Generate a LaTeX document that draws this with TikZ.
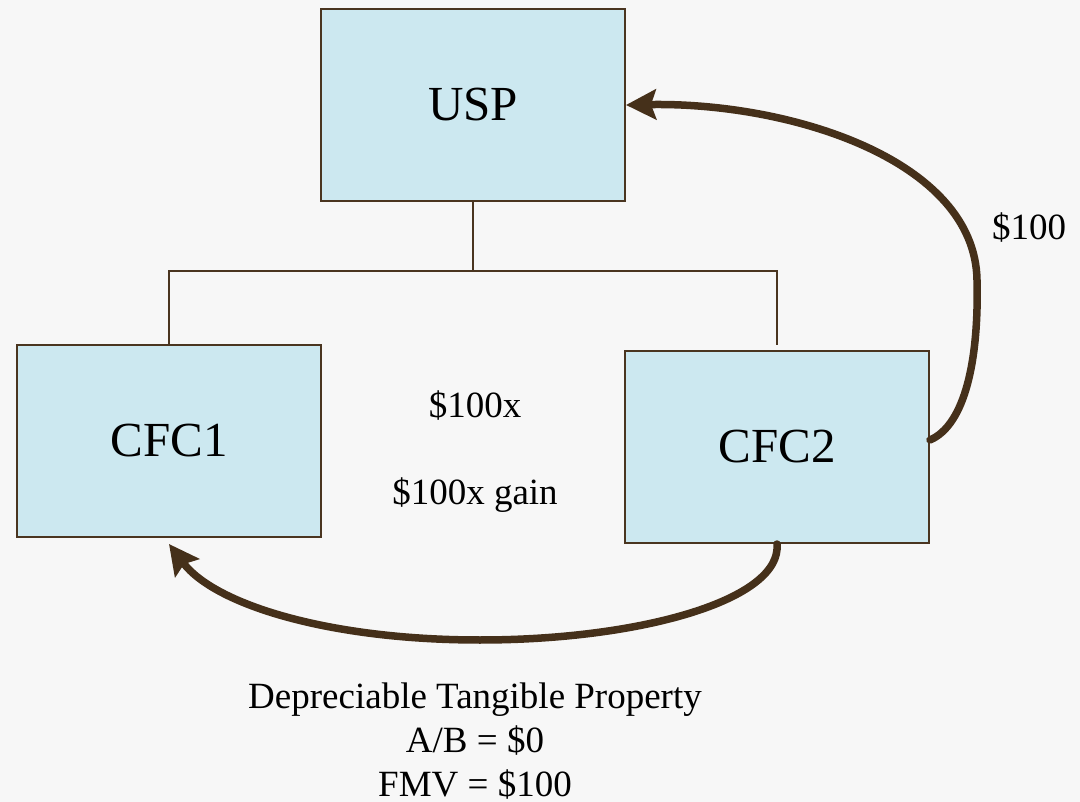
\documentclass[tikz,border=0pt]{standalone}
\usepackage{fontspec}
\setmainfont{Liberation Serif}
\usetikzlibrary{arrows.meta}
\definecolor{bgc}{HTML}{F7F7F7}
\definecolor{boxfill}{HTML}{CCE8F0}
\definecolor{edge}{HTML}{4A3520}
\definecolor{flowc}{HTML}{45301A}
\tikzset{
  entity/.style={draw=edge, line width=2pt, fill=boxfill, minimum width=304pt,
    minimum height=192pt, inner sep=0pt, font=\fontsize{49}{54}\selectfont},
  tree/.style={draw=edge, line width=1.5pt},
  flow/.style={draw=flowc, line width=7.5pt, line cap=round,
    -{Stealth[length=30pt,width=30pt,inset=5pt]}},
  lbl/.style={font=\fontsize{37}{44}\selectfont, inner sep=0pt}
}
\begin{document}
\begin{tikzpicture}[x=1pt,y=-1pt]
  \fill[bgc] (0,0) rectangle (1080,802);
  \useasboundingbox (0,0) rectangle (1080,802);

  % entities
  \node[entity] (usp)  at (473,105) {USP};
  \node[entity] (cfc1) at (169,441) {CFC1};
  \node[entity] (cfc2) at (777,447) {CFC2};

  % ownership tree
  \coordinate (hub) at (473,271);
  \coordinate (right) at (777,345);
  \draw[tree] (usp.south) -- (hub);
  \draw[tree] (hub) -| (cfc1.north);
  \draw[tree] (hub) -| (right);

  % flows
  \draw[flow] ([yshift=7pt]cfc2.east) .. controls (965,425) and (979,360) .. (977,280)
     .. controls (975,160) and (790,102) .. (usp.east);
  \draw[flow] (cfc2.south) .. controls (782,600) and (640,640) .. (480,640)
     .. controls (330,640) and (215,605) .. ([yshift=-6pt]cfc1.south);

  % labels
  \node[lbl] (cash)  at (1029,228) {\$100};
  \node[lbl] (price) at (475,406) {\$100x};
  \node[lbl] (gain)  at (475,495) {\$100x gain};
  \node[lbl, align=center] (prop) at (475,741)
    {Depreciable Tangible Property\\A/B = \$0\\FMV = \$100};
\end{tikzpicture}
\end{document}
